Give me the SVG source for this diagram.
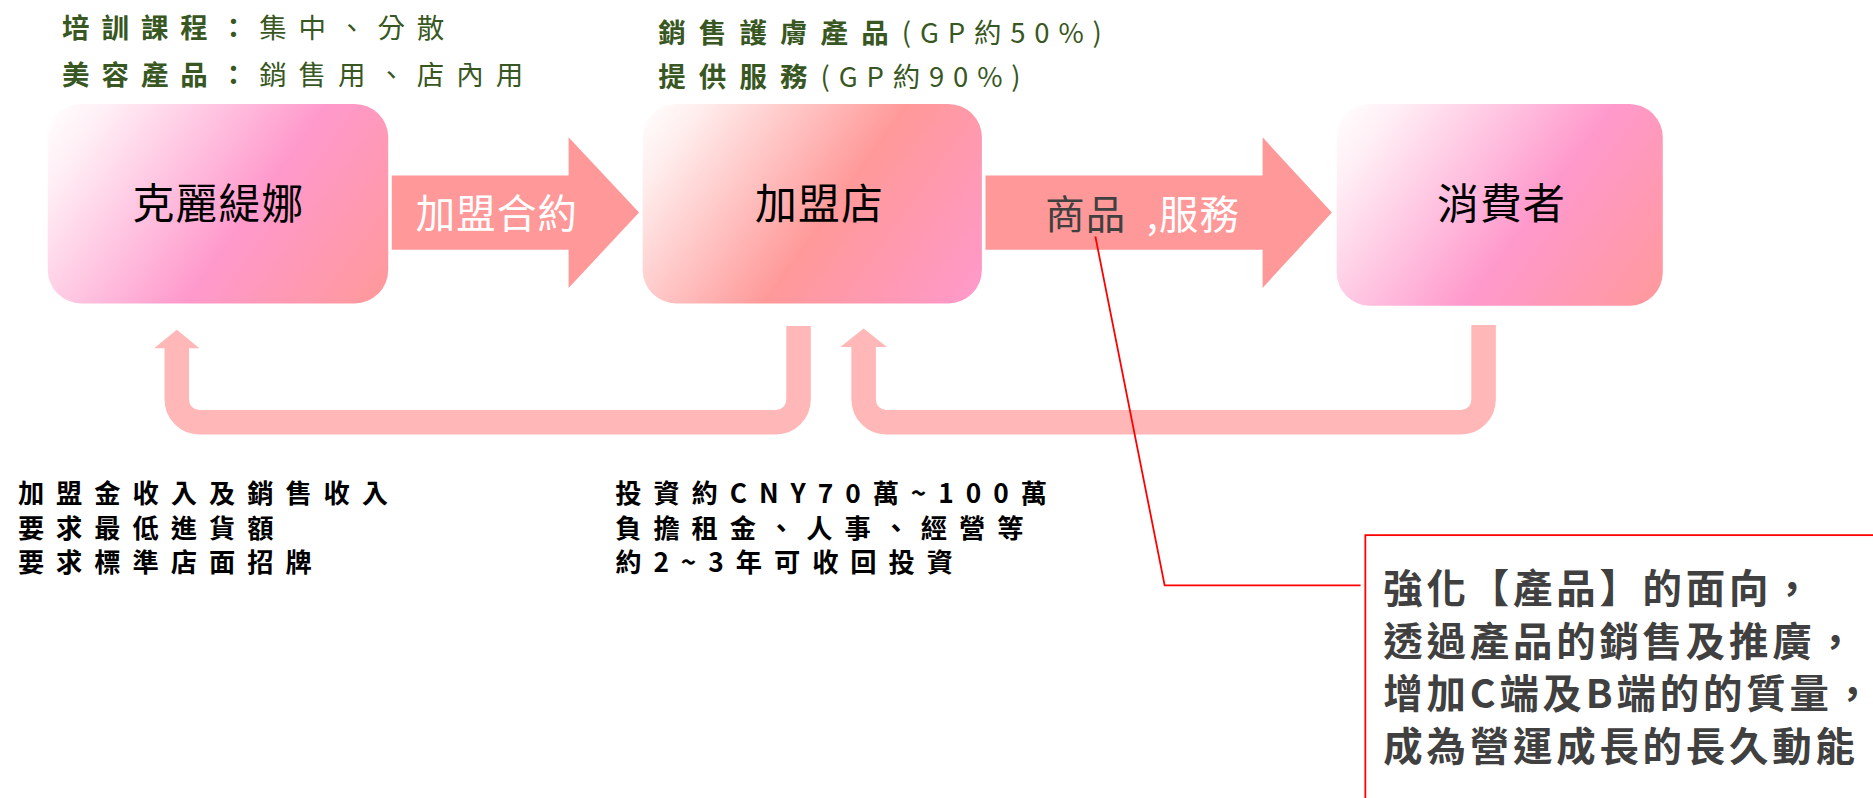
<svg xmlns="http://www.w3.org/2000/svg" width="1873" height="798" viewBox="0 0 1873 798">
<defs>
<style>
.cjk{font-family:"Noto Sans CJK TC","Noto Sans CJK SC","Noto Sans CJK JP",sans-serif}
.title{font-size:23px;fill:#385723;letter-spacing:10px}
.b{font-weight:bold}
.n{font-weight:normal}
.node-label{font-size:35px;fill:#000;letter-spacing:1px;text-anchor:middle}
.arrow-label{font-size:33px;letter-spacing:1px}
.note{font-size:22px;font-weight:bold;fill:#000;letter-spacing:10px}
.callout{font-size:33px;font-weight:bold;fill:#404040;letter-spacing:3.2px}
.flow{fill:#FF9999}
.ret{fill:none;stroke:#FFB7B7;stroke-width:20.5}
.rethead{fill:#FFB7B7}
</style>
<linearGradient id="g1" gradientUnits="userSpaceOnUse" x1="40" y1="87" x2="306" y2="279">
<stop offset="0" stop-color="#FFFFFF"/>
<stop offset="0.12" stop-color="#FFF0F6"/>
<stop offset="0.58" stop-color="#FF99CC"/>
<stop offset="1" stop-color="#FF9999"/>
</linearGradient>
<linearGradient id="g2" gradientUnits="userSpaceOnUse" x1="538" y1="87" x2="804" y2="279">
<stop offset="0" stop-color="#FFFFFF"/>
<stop offset="0.12" stop-color="#FFEEEE"/>
<stop offset="0.55" stop-color="#FF9999"/>
<stop offset="1" stop-color="#FF99CC"/>
</linearGradient>
<linearGradient id="g3" gradientUnits="userSpaceOnUse" x1="1119" y1="87" x2="1378" y2="280">
<stop offset="0" stop-color="#FFFFFF"/>
<stop offset="0.12" stop-color="#FFF0F6"/>
<stop offset="0.58" stop-color="#FF99CC"/>
<stop offset="1" stop-color="#FF9999"/>
</linearGradient>
</defs>
<rect width="1873" height="798" fill="#FFFFFF"/>
<g transform="scale(1.19452)">
<g id="title-left" class="cjk title">
<text x="52" y="32"><tspan class="b">培訓課程：</tspan><tspan class="n">集中、分散</tspan></text>
<text x="52" y="71"><tspan class="b">美容產品：</tspan><tspan class="n">銷售用、店內用</tspan></text>
</g>
<g id="title-right" class="cjk title" style="letter-spacing:11px">
<text x="551" y="36"><tspan class="b">銷售護膚產品</tspan><tspan class="n" style="letter-spacing:7.4px">(GP約50%)</tspan></text>
<text x="551" y="73"><tspan class="b">提供服務</tspan><tspan class="n" style="letter-spacing:7.4px">(GP約90%)</tspan></text>
</g>
<g id="connectors">
<polygon class="flow" points="328,147 476,147 476,115 535,178 476,241 476,209 328,209"/>
<text class="cjk arrow-label" x="348" y="191" fill="#FFFFFF">加盟合約</text>
<polygon class="flow" points="825,147 1057,147 1057,115 1115,178 1057,241 1057,209 825,209"/>
<text class="cjk arrow-label" x="875" y="192"><tspan fill="#404040">商品</tspan><tspan x="960" fill="#FFFFFF">,服務</tspan></text>
<path class="ret" d="M668.5 273 V334.5 A19 19 0 0 1 649.5 353.5 H167 A19 19 0 0 1 148 334.5 V291"/>
<polygon class="rethead" points="129,291.5 148,276 167,291.5"/>
<path class="ret" d="M1242 272 V334.5 A19 19 0 0 1 1223 353.5 H742 A19 19 0 0 1 723 334.5 V290"/>
<polygon class="rethead" points="703.5,290.5 723,275 742.5,290.5"/>
<polyline points="917,198 975,490 1139,490" fill="none" stroke="#FF0000" stroke-width="1.5"/>
</g>
<g id="node-clarena">
<rect x="40" y="87" width="285" height="167" rx="28" fill="url(#g1)"/>
<text class="cjk node-label" x="183" y="183">克麗緹娜</text>
</g>
<g id="node-franchise">
<rect x="538" y="87" width="284" height="167" rx="28" fill="url(#g2)"/>
<text class="cjk node-label" x="686" y="183">加盟店</text>
</g>
<g id="node-consumer">
<rect x="1119" y="87" width="273" height="169" rx="28" fill="url(#g3)"/>
<text class="cjk node-label" x="1257" y="183">消費者</text>
</g>
<g id="note-left" class="cjk note">
<text x="15" y="421">加盟金收入及銷售收入</text>
<text x="15" y="450">要求最低進貨額</text>
<text x="15" y="479">要求標準店面招牌</text>
</g>
<g id="note-mid" class="cjk note">
<text x="515" y="421">投資約CNY70萬~100萬</text>
<text x="515" y="450">負擔租金、人事、經營等</text>
<text x="515" y="479">約2~3年可收回投資</text>
</g>
<g id="callout">
<rect x="1143" y="448" width="460" height="260" fill="#FFFFFF" stroke="#FF0000" stroke-width="1.5"/>
<text class="cjk callout" x="1158" y="505">強化【產品】的面向，</text>
<text class="cjk callout" x="1158" y="549">透過產品的銷售及推廣，</text>
<text class="cjk callout" x="1158" y="593">增加C端及B端的的質量，</text>
<text class="cjk callout" x="1158" y="637">成為營運成長的長久動能</text>
</g>
</g>
</svg>
